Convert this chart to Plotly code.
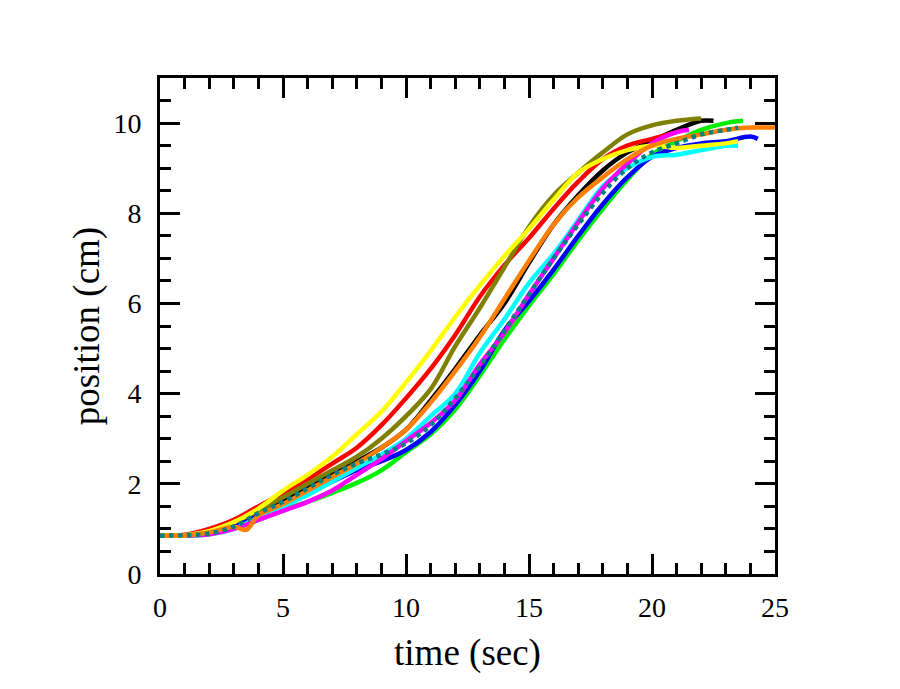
import plotly.graph_objects as go

# times (sec) shared by most runs
t_base = [0, 1, 2, 3, 4, 5, 6, 7, 8, 9, 10, 11, 12, 13, 14, 15, 16, 17, 18, 19, 20, 21, 22, 23]

black_t = t_base[:23] + [22.5]
black_y = [0.85, 0.86, 0.95, 1.1, 1.35, 1.6, 1.9, 2.2, 2.5, 2.8, 3.2, 3.85, 4.55, 5.3, 6.0,
           6.9, 7.75, 8.4, 8.95, 9.35, 9.6, 9.85, 10.05, 10.05]

red_t = t_base[:22]
red_y = [0.85, 0.87, 1.0, 1.2, 1.5, 1.8, 2.1, 2.45, 2.8, 3.3, 3.9, 4.55, 5.3, 6.15, 6.85,
         7.45, 8.1, 8.7, 9.2, 9.5, 9.65, 9.8]

green_t = t_base + [23.7]
green_y = [0.85, 0.85, 0.88, 1.0, 1.2, 1.42, 1.6, 1.8, 2.02, 2.3, 2.7, 3.1, 3.65, 4.4, 5.2,
           5.95, 6.65, 7.4, 8.1, 8.75, 9.3, 9.6, 9.85, 10.0, 10.05]

blue_t = t_base + [24, 24.3]
blue_y = [0.85, 0.86, 0.9, 1.05, 1.3, 1.55, 1.8, 2.05, 2.3, 2.5, 2.75, 3.15, 3.75, 4.5, 5.4,
          6.05, 6.75, 7.5, 8.2, 8.8, 9.25, 9.45, 9.55, 9.6, 9.7, 9.65]

cyan_t = t_base + [23.5]
cyan_y = [0.85, 0.85, 0.88, 1.0, 1.25, 1.5, 1.75, 2.05, 2.35, 2.65, 3.0, 3.5, 4.0, 4.9, 5.65,
          6.45, 7.1, 7.85, 8.6, 9.0, 9.25, 9.3, 9.4, 9.5, 9.5]

magenta_t = t_base[:22] + [21.5]
magenta_y = [0.85, 0.85, 0.88, 1.0, 1.2, 1.4, 1.6, 1.85, 2.2, 2.55, 2.95, 3.35, 3.85, 4.65,
             5.35, 6.2, 7.0, 7.8, 8.55, 9.1, 9.55, 9.8, 9.85]

olive_t = t_base[:23]
olive_y = [0.85, 0.86, 0.95, 1.15, 1.4, 1.7, 2.0, 2.3, 2.6, 3.0, 3.5, 4.1, 5.05, 5.9, 6.8,
           7.7, 8.4, 8.9, 9.35, 9.75, 9.95, 10.05, 10.1]

yellow_t = t_base + [23.5]
yellow_y = [0.85, 0.86, 0.95, 1.15, 1.45, 1.85, 2.2, 2.6, 3.1, 3.6, 4.25, 4.95, 5.7, 6.4, 7.05,
            7.65, 8.3, 8.9, 9.2, 9.4, 9.5, 9.45, 9.5, 9.55, 9.6]

orange_t = [0, 1, 2, 3, 3.5, 4, 5, 6, 7, 8, 9, 10, 11, 12, 13, 14, 15, 16, 17, 18, 19, 20, 21,
            22, 23, 24, 25]
orange_y = [0.85, 0.86, 0.92, 1.05, 0.98, 1.3, 1.55, 1.85, 2.15, 2.45, 2.8, 3.2, 3.8, 4.5,
            5.25, 6.1, 6.95, 7.75, 8.35, 8.8, 9.2, 9.5, 9.65, 9.75, 9.85, 9.9, 9.9]

teal_t = t_base + [23.5]
teal_y = [0.85, 0.86, 0.9, 1.05, 1.35, 1.6, 1.9, 2.2, 2.45, 2.65, 2.9, 3.3, 3.9, 4.6, 5.4,
          6.2, 7.0, 7.75, 8.45, 9.0, 9.35, 9.55, 9.75, 9.85, 9.9]

runs = [
    (black_t, black_y, "black", "solid"),
    (red_t, red_y, "red", "solid"),
    (green_t, green_y, "#00ee00", "solid"),
    (blue_t, blue_y, "blue", "solid"),
    (cyan_t, cyan_y, "cyan", "solid"),
    (magenta_t, magenta_y, "magenta", "solid"),
    (olive_t, olive_y, "#808000", "solid"),
    (yellow_t, yellow_y, "yellow", "solid"),
    (orange_t, orange_y, "#ff7f00", "solid"),
    (teal_t, teal_y, "#008080", "dot"),
]

fig = go.Figure()
for tx, ty, col, dash in runs:
    fig.add_trace(go.Scatter(x=tx, y=ty, mode="lines",
                             line=dict(color=col, width=4.5, dash=dash, shape="spline"),
                             showlegend=False))

serif = "Liberation Serif"
axis_common = dict(
    showgrid=False, zeroline=False, showline=True, linecolor="black", linewidth=3,
    mirror="ticks", ticks="inside", ticklen=20, tickwidth=3, tickcolor="black",
    tickfont=dict(family=serif, size=28, color="black"), automargin=False,
)

fig.update_xaxes(range=[0, 25], dtick=5, tick0=0, ticklabelstandoff=6,
                 minor=dict(dtick=1, ticklen=11, tickwidth=3, tickcolor="black", ticks="inside"),
                 title=dict(text="time (sec)", font=dict(family=serif, size=37, color="black"),
                            standoff=18),
                 **axis_common)
fig.update_yaxes(range=[0, 11], dtick=2, tick0=0, ticklabelstandoff=10,
                 minor=dict(dtick=0.5, ticklen=11, tickwidth=3, tickcolor="black", ticks="inside"),
                 title=dict(text="position (cm)", font=dict(family=serif, size=37, color="black"),
                            standoff=3),
                 **axis_common)

fig.update_layout(
    width=892, height=681,
    margin=dict(l=152, r=125, t=70, b=115),
    paper_bgcolor="white", plot_bgcolor="white",
)

fig.write_html("out.html")
